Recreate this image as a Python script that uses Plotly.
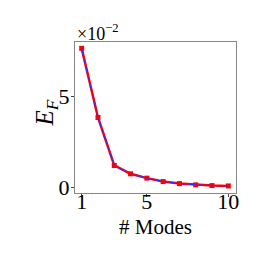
import plotly.graph_objects as go

modes = [1, 2, 3, 4, 5, 6, 7, 8, 9, 10]
ef_scaled = [7.67, 3.85, 1.2, 0.74, 0.5, 0.31, 0.2, 0.13, 0.09, 0.07]  # in units of 1e-2
x_ticks = [1, 5, 10]
y_ticks = [0, 5]

font = "Liberation Serif, DejaVu Serif, serif"

fig = go.Figure()
fig.add_trace(go.Scatter(x=modes, y=ef_scaled, mode="lines+markers",
                         line=dict(color="#ff0000", width=2.5),
                         marker=dict(symbol="square", size=5, color="#ff0000"),
                         showlegend=False))
fig.add_trace(go.Scatter(x=modes, y=ef_scaled, mode="lines",
                         line=dict(color="#3030ff", width=1.2, dash="dashdot"),
                         showlegend=False))

fig.update_layout(
    width=262, height=262,
    margin=dict(l=67, r=34, t=34, b=77),
    plot_bgcolor="white", paper_bgcolor="white",
    font=dict(family=font, size=20, color="black"),
    xaxis=dict(range=[0.59, 10.47], tickvals=x_ticks, ticks="outside", ticklen=3,
               showgrid=False, zeroline=False, showline=True, linecolor="#888888",
               linewidth=1, mirror=True, tickfont=dict(size=22, family=font),
               automargin=False, ticklabelstandoff=-14),
    yaxis=dict(range=[-0.32, 8.02], tickvals=y_ticks, ticks="outside", ticklen=3,
               showgrid=False, zeroline=False, showline=True, linecolor="#888888",
               linewidth=1, mirror=True, tickfont=dict(size=22, family=font),
               automargin=False, ticklabelstandoff=-3),
    annotations=[
        dict(text="×10<sup>−2</sup>", xref="paper", yref="paper", x=0, y=1,
             xanchor="left", yanchor="bottom", showarrow=False,
             font=dict(size=18, family=font), xshift=0, yshift=-4),
        dict(text="# Modes", xref="paper", yref="paper", x=0.5, y=0,
             xanchor="center", yanchor="middle", showarrow=False,
             font=dict(size=21, family=font), yshift=-34),
        dict(text="<i>E<sub>F</sub></i>", xref="paper", yref="paper", x=0, y=0.5,
             xanchor="center", yanchor="middle", showarrow=False, textangle=-90,
             font=dict(size=25, family=font), xshift=-29, yshift=4),
    ],
)

fig.write_html("out.html")
